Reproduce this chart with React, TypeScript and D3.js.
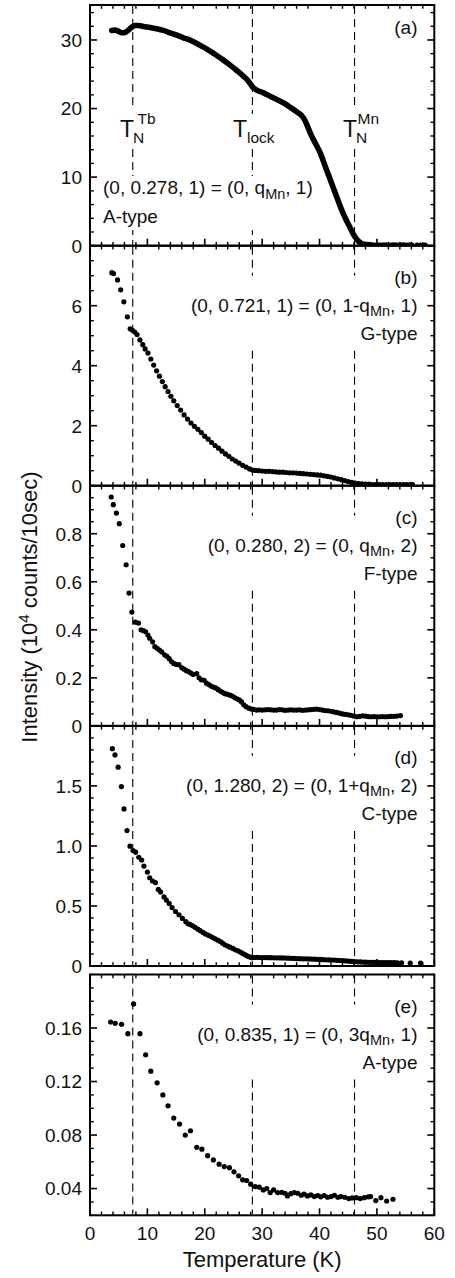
import React from "react";
import * as d3 from "d3";

// ---------- data ----------
const X_DOMAIN: [number, number] = [0, 60];
const X_TICKS = [0, 10, 20, 30, 40, 50, 60];
const X_MINOR_STEP = 2;
const TRANSITIONS = [7.45, 28.3, 46.1]; // T_N^Tb, T_lock, T_N^Mn

const PANEL_TAGS = ["(a)", "(b)", "(c)", "(d)", "(e)"];
const REFLECTION_PRE = [
  "(0, 0.278, 1) = (0, q",
  "(0, 0.721, 1) = (0, 1-q",
  "(0, 0.280, 2) = (0, q",
  "(0, 1.280, 2) = (0, 1+q",
  "(0, 0.835, 1) = (0, 3q",
];
const REFLECTION_POST = [", 1)", ", 1)", ", 2)", ", 2)", ", 1)"];
const ORDER_TYPES = ["A-type", "G-type", "F-type", "C-type", "A-type"];

const Y_DOMAINS: [number, number][] = [
  [0, 35.1],
  [0, 8],
  [0, 1],
  [0, 2],
  [0.02, 0.2],
];
const Y_MAJOR = [
  [0, 10, 20, 30],
  [0, 2, 4, 6],
  [0, 0.2, 0.4, 0.6, 0.8],
  [0, 0.5, 1.0, 1.5],
  [0.04, 0.08, 0.12, 0.16],
];
const Y_MAJOR_LABELS = [
  ["0", "10", "20", "30"],
  ["0", "2", "4", "6"],
  ["0", "0.2", "0.4", "0.6", "0.8"],
  ["0", "0.5", "1.0", "1.5"],
  ["0.04", "0.08", "0.12", "0.16"],
];
const Y_MINOR_STEP = [2, 0.5, 0.05, 0.1, 0.01];

// (a) A-type (0, 0.278, 1): dense scan drawn as thick curve, tail as dots
const SERIES_A_CURVE: [number, number][] = [
  [3.78, 31.39], [4.36, 31.44], [4.94, 31.29], [5.52, 31.05], [6.1, 31.09],
  [6.69, 31.44], [7.27, 31.87], [7.85, 32.12], [8.43, 32.12], [9.3, 31.97],
  [10.47, 31.82], [11.63, 31.63], [12.79, 31.39], [13.95, 31.05], [15.12, 30.7],
  [16.28, 30.32], [17.44, 29.98], [18.61, 29.49], [19.77, 28.95], [20.93, 28.37],
  [22.09, 27.74], [23.26, 27.06], [24.42, 26.33], [25.58, 25.55], [26.74, 24.72],
  [27.62, 23.99], [28.31, 23.16], [29.07, 22.68], [30.23, 22.29], [31.4, 21.8],
  [32.56, 21.31], [33.72, 20.83], [34.88, 20.19], [36.05, 19.51], [37.21, 18.64],
  [37.79, 17.66], [38.37, 16.45], [39.25, 14.99], [40.12, 13.53], [40.99, 11.58],
  [41.86, 9.64], [42.74, 7.69], [43.61, 5.74], [44.48, 4.04], [45.35, 2.58],
  [45.93, 1.61], [46.8, 0.63], [47.68, 0.2], [48.84, 0.12],
];
const SERIES_A_TAIL: [number, number][] = [
  [49.2, 0.12], [49.7, 0.1], [50.2, 0.12], [50.7, 0.1], [51.2, 0.11], [51.7, 0.12],
  [52.2, 0.1], [52.7, 0.11], [53.2, 0.12], [53.7, 0.1], [54.2, 0.11], [54.7, 0.12],
  [55.2, 0.1], [55.7, 0.11], [56.1, 0.1], [57.0, 0.1], [57.6, 0.1], [58.4, 0.1],
];

// (b) G-type (0, 0.721, 1)
const SERIES_B: [number, number][] = [
  [3.8, 7.1], [4.1, 7.07], [4.8, 6.86], [5.35, 6.53], [5.9, 6.13], [6.5, 5.63],
  [7.0, 5.23], [7.4, 5.18], [7.8, 5.12], [8.2, 5.04], [8.7, 4.86], [9.2, 4.7],
  [9.6, 4.56], [10.1, 4.42], [10.6, 4.22], [11.1, 4.02], [11.6, 3.83], [12.1, 3.65],
  [12.6, 3.47], [13.1, 3.3], [13.6, 3.14], [14.1, 2.98], [14.6, 2.83], [15.2, 2.67],
  [15.8, 2.52], [16.4, 2.36], [17.0, 2.22], [17.6, 2.09], [18.2, 1.98], [18.8, 1.88],
  [19.4, 1.77], [20.0, 1.65], [20.6, 1.55], [21.2, 1.44], [21.8, 1.34], [22.4, 1.25],
  [23.0, 1.15], [23.6, 1.06], [24.2, 0.98], [24.8, 0.89], [25.4, 0.82], [26.0, 0.75],
  [26.6, 0.68], [27.2, 0.62], [27.8, 0.56], [28.3, 0.52], [28.8, 0.51], [29.4, 0.5],
  [30.0, 0.49], [30.6, 0.48], [31.2, 0.48], [31.8, 0.47], [32.4, 0.46], [33.0, 0.45],
  [33.6, 0.45], [34.2, 0.44], [34.8, 0.43], [35.4, 0.43], [36.0, 0.42], [36.6, 0.41],
  [37.2, 0.4], [37.8, 0.39], [38.4, 0.38], [39.0, 0.37], [39.6, 0.36], [40.2, 0.35],
  [40.8, 0.33], [41.4, 0.31], [42.0, 0.29], [42.6, 0.26], [43.2, 0.23], [43.8, 0.2],
  [44.4, 0.17], [45.0, 0.14], [45.6, 0.11], [46.2, 0.09], [46.8, 0.07], [47.4, 0.06],
  [48.0, 0.05], [48.6, 0.05], [49.2, 0.04], [49.8, 0.04], [50.4, 0.04], [51.0, 0.04],
  [51.6, 0.04], [52.2, 0.04], [52.8, 0.04], [53.4, 0.04], [54.0, 0.04], [54.6, 0.04],
  [55.2, 0.04], [55.8, 0.04], [56.2, 0.04],
];

// (c) F-type (0, 0.280, 2)
const SERIES_C: [number, number][] = [
  [3.7, 0.953], [4.06, 0.921], [4.6, 0.886], [5.1, 0.842], [5.7, 0.751], [6.3, 0.671],
  [6.8, 0.553], [7.3, 0.474], [7.9, 0.432], [8.45, 0.428], [8.9, 0.4], [9.3, 0.397],
  [9.7, 0.392], [10.1, 0.378], [10.4, 0.365], [10.9, 0.35], [11.3, 0.33], [11.7, 0.323],
  [12.1, 0.316], [12.5, 0.308], [13.0, 0.296], [13.4, 0.29], [13.8, 0.28], [14.2, 0.268],
  [14.6, 0.26], [15.0, 0.256], [15.5, 0.255], [16.0, 0.242], [16.4, 0.236], [16.8, 0.23],
  [17.2, 0.226], [17.6, 0.22], [18.0, 0.214], [18.6, 0.218], [19.0, 0.2], [19.4, 0.192],
  [19.9, 0.19], [20.3, 0.178], [20.7, 0.172], [21.1, 0.166], [21.5, 0.162], [21.9, 0.158],
  [22.3, 0.152], [22.7, 0.145], [23.1, 0.14], [23.5, 0.134], [23.9, 0.132], [24.4, 0.128],
  [24.8, 0.124], [25.2, 0.118], [25.6, 0.113], [26.0, 0.108], [26.4, 0.1], [26.8, 0.088],
  [27.2, 0.08], [27.7, 0.074], [28.1, 0.07], [28.5, 0.069], [29.0, 0.066], [29.5, 0.067],
  [30.0, 0.066], [30.5, 0.067], [31.0, 0.068], [31.5, 0.067], [32.0, 0.066], [32.5, 0.066],
  [33.0, 0.068], [33.5, 0.067], [34.0, 0.065], [34.5, 0.066], [35.0, 0.067], [35.5, 0.066],
  [36.0, 0.066], [36.5, 0.067], [37.0, 0.065], [37.5, 0.066], [38.0, 0.067], [38.5, 0.068],
  [39.0, 0.069], [39.5, 0.07], [40.0, 0.068], [40.5, 0.066], [41.0, 0.064], [41.5, 0.063],
  [42.0, 0.061], [42.5, 0.058], [43.0, 0.056], [43.5, 0.053], [44.0, 0.05], [44.5, 0.048],
  [45.0, 0.046], [45.5, 0.044], [46.0, 0.041], [46.5, 0.038], [47.0, 0.04], [47.5, 0.042],
  [48.0, 0.041], [48.5, 0.039], [49.0, 0.038], [49.5, 0.039], [50.0, 0.038], [50.5, 0.038],
  [51.0, 0.039], [51.5, 0.038], [52.0, 0.039], [52.5, 0.04], [53.0, 0.04], [53.5, 0.041],
  [54.1, 0.043],
];

// (d) C-type (0, 1.280, 2)
const SERIES_D: [number, number][] = [
  [3.9, 1.81], [4.35, 1.758], [4.9, 1.656], [5.46, 1.495], [5.93, 1.308], [6.45, 1.128],
  [6.97, 0.998], [7.5, 0.962], [7.95, 0.948], [8.5, 0.906], [9.0, 0.883], [9.4, 0.832],
  [10.0, 0.782], [10.4, 0.735], [10.9, 0.708], [11.4, 0.695], [11.9, 0.638], [12.3, 0.617],
  [12.9, 0.575], [13.3, 0.549], [13.8, 0.521], [14.3, 0.487], [14.9, 0.454], [15.5, 0.427],
  [16.1, 0.396], [16.7, 0.369], [17.1, 0.352], [17.5, 0.345], [17.9, 0.335], [18.3, 0.322],
  [18.8, 0.307], [19.2, 0.294], [19.7, 0.28], [20.1, 0.267], [20.6, 0.257], [21.0, 0.248],
  [21.4, 0.237], [21.8, 0.226], [22.3, 0.215], [22.7, 0.204], [23.1, 0.19], [23.5, 0.176],
  [24.0, 0.166], [24.4, 0.157], [24.9, 0.146], [25.3, 0.135], [25.8, 0.126], [26.2, 0.116],
  [26.6, 0.105], [27.0, 0.094], [27.3, 0.087], [27.6, 0.08], [27.9, 0.074], [28.2, 0.069],
  [28.6, 0.071], [29.1, 0.072], [29.6, 0.071], [30.1, 0.07], [30.6, 0.07], [31.1, 0.069],
  [31.6, 0.069], [32.1, 0.068], [32.6, 0.068], [33.1, 0.067], [33.6, 0.067], [34.1, 0.066],
  [34.6, 0.065], [35.1, 0.064], [35.6, 0.063], [36.1, 0.062], [36.6, 0.061], [37.1, 0.06],
  [37.6, 0.06], [38.1, 0.059], [38.6, 0.058], [39.1, 0.057], [39.6, 0.056], [40.1, 0.055],
  [40.6, 0.053], [41.1, 0.052], [41.6, 0.051], [42.1, 0.05], [42.6, 0.049], [43.1, 0.047],
  [43.6, 0.046], [44.1, 0.044], [44.6, 0.042], [45.1, 0.04], [45.6, 0.039], [46.1, 0.037],
  [46.6, 0.035], [47.1, 0.034], [47.6, 0.033], [48.1, 0.032], [48.6, 0.031], [49.1, 0.031],
  [49.6, 0.03], [50.1, 0.03], [50.6, 0.029], [51.1, 0.029], [51.6, 0.028], [52.1, 0.028],
  [52.6, 0.028], [53.1, 0.028], [53.6, 0.027], [54.3, 0.027], [55.8, 0.025], [57.6, 0.025],
];

// (e) A-type (0, 0.835, 1)
const SERIES_E: [number, number][] = [
  [3.6, 0.1645], [4.4, 0.1635], [5.5, 0.1628], [6.6, 0.1558], [7.6, 0.178], [8.7, 0.1558],
  [9.7, 0.14], [10.6, 0.1277], [11.7, 0.119], [12.7, 0.11], [13.6, 0.1019], [14.6, 0.0927],
  [15.6, 0.0882], [16.6, 0.08], [17.5, 0.0832], [18.6, 0.0708], [19.5, 0.0694], [20.5, 0.0646],
  [21.5, 0.0614], [22.5, 0.0582], [23.4, 0.0564], [24.3, 0.0556], [25.1, 0.0525], [25.9, 0.0495],
  [26.6, 0.0465], [27.3, 0.046], [28.0, 0.0433], [28.8, 0.0415], [29.5, 0.041], [30.2, 0.039],
  [30.8, 0.04], [31.4, 0.037], [32.0, 0.039], [32.7, 0.037], [33.4, 0.0372], [34.0, 0.0365],
  [34.4, 0.0345], [35.0, 0.0362], [35.6, 0.037], [36.2, 0.0365], [36.8, 0.035], [37.3, 0.0358],
  [37.9, 0.0345], [38.5, 0.0352], [39.1, 0.034], [39.7, 0.0348], [40.2, 0.0338], [40.8, 0.0348],
  [41.4, 0.0335], [42.0, 0.034], [42.6, 0.035], [43.2, 0.0335], [43.7, 0.034], [44.4, 0.0335],
  [45.1, 0.0325], [45.7, 0.033], [46.4, 0.0332], [47.1, 0.0325], [47.8, 0.0332], [48.5, 0.0338],
  [48.9, 0.034], [49.8, 0.031], [50.7, 0.0332], [51.7, 0.0307], [52.8, 0.032],
];

const DOT_SERIES = [SERIES_A_TAIL, SERIES_B, SERIES_C, SERIES_D, SERIES_E];

// ---------- layout ----------
const FONT = "'Liberation Sans', Arial, Helvetica, sans-serif";
const W = 455;
const H = 1278;
const LEFT = 90;
const RIGHT = 434.3;
const PANEL_BOUNDS: [number, number][] = [
  [5, 245.7],
  [245.7, 485.7],
  [485.7, 725.9],
  [725.9, 966],
  [974.5, 1215.3],
];
const TICK_FS = 19;

const x = d3.scaleLinear().domain(X_DOMAIN).range([LEFT, RIGHT]);

function range(start: number, stop: number, step: number) {
  const out: number[] = [];
  const n = Math.round((stop - start) / step);
  for (let i = 0; i <= n; i++) out.push(+(start + i * step).toFixed(6));
  return out;
}

function Panel({ i }: { i: number }) {
  const [top, bottom] = PANEL_BOUNDS[i];
  const y = d3.scaleLinear().domain(Y_DOMAINS[i]).range([bottom, top]);
  const [y0, y1] = Y_DOMAINS[i];
  const minorY = range(Math.ceil(y0 / Y_MINOR_STEP[i] - 1e-6) * Y_MINOR_STEP[i], y1, Y_MINOR_STEP[i]).filter(
    (v) => v >= y0 - 1e-9 && v <= y1 + 1e-9 && !Y_MAJOR[i].some((m) => Math.abs(m - v) < 1e-6)
  );
  const minorX = range(X_DOMAIN[0], X_DOMAIN[1], X_MINOR_STEP).filter((v) => !X_TICKS.includes(v));
  const MAJ = 7;
  const MIN = 3.8;
  const clipId = `clip-${i}`;

  const boxes: { x: number; y: number; w: number; h: number }[] =
    i === 0
      ? [
          { x: 117, y: 107, w: 40, h: 40 },
          { x: 230, y: 114, w: 48, h: 33 },
          { x: 340, y: 107, w: 41, h: 40 },
          { x: 100, y: 176, w: 222, h: 54 },
        ]
      : [{ x: 183, y: top + 30, w: 236, h: 72 }];

  const dots = DOT_SERIES[i];
  const line = d3
    .line<[number, number]>()
    .x((d) => x(d[0]))
    .y((d) => y(d[1]))
    .curve(d3.curveMonotoneX);

  return (
    <g>
      <defs>
        <clipPath id={clipId}>
          <rect x={LEFT} y={top} width={RIGHT - LEFT} height={bottom - top} />
        </clipPath>
      </defs>
      {TRANSITIONS.map((t) => (
        <line
          key={t}
          x1={x(t)}
          x2={x(t)}
          y1={top + 1}
          y2={bottom - 1}
          stroke="#000"
          strokeWidth={1.1}
          strokeDasharray="8,5"
        />
      ))}
      {boxes.map((b, k) => (
        <rect key={k} x={b.x} y={b.y} width={b.w} height={b.h} fill="#fff" />
      ))}
      <g clipPath={`url(#${clipId})`}>
        {i === 0 && (
          <path
            d={line(SERIES_A_CURVE) || ""}
            fill="none"
            stroke="#000"
            strokeWidth={5.6}
            strokeLinejoin="round"
            strokeLinecap="round"
          />
        )}
        {dots.map((d, k) => (
          <circle key={k} cx={x(d[0])} cy={y(d[1])} r={2.6} fill="#000" />
        ))}
      </g>
      {Y_MAJOR[i].map((v) => (
        <g key={"ym" + v}>
          <line x1={LEFT} x2={LEFT + MAJ} y1={y(v)} y2={y(v)} stroke="#000" strokeWidth={1.6} />
          <line x1={RIGHT} x2={RIGHT - MAJ} y1={y(v)} y2={y(v)} stroke="#000" strokeWidth={1.6} />
        </g>
      ))}
      {minorY.map((v) => (
        <g key={"yn" + v}>
          <line x1={LEFT} x2={LEFT + MIN} y1={y(v)} y2={y(v)} stroke="#000" strokeWidth={1.4} />
          <line x1={RIGHT} x2={RIGHT - MIN} y1={y(v)} y2={y(v)} stroke="#000" strokeWidth={1.4} />
        </g>
      ))}
      {X_TICKS.map((v) => (
        <line key={"xm" + v} x1={x(v)} x2={x(v)} y1={bottom} y2={bottom - MAJ} stroke="#000" strokeWidth={1.6} />
      ))}
      {minorX.map((v) => (
        <g key={"xn" + v}>
          <line x1={x(v)} x2={x(v)} y1={bottom} y2={bottom - MIN} stroke="#000" strokeWidth={1.4} />
          <line x1={x(v)} x2={x(v)} y1={top} y2={top + MIN} stroke="#000" strokeWidth={1.4} />
        </g>
      ))}
      <rect x={LEFT} y={top} width={RIGHT - LEFT} height={bottom - top} fill="none" stroke="#000" strokeWidth={2} />
      {Y_MAJOR[i].map((v, k) => (
        <text
          key={"yl" + v}
          x={82}
          y={y(v)}
          dy="0.36em"
          textAnchor="end"
          fontSize={TICK_FS}
          fontFamily={FONT}
          fill="#111"
        >
          {Y_MAJOR_LABELS[i][k]}
        </text>
      ))}
      {i === 0 ? (
        <g fontFamily={FONT} fill="#111">
          <text x={417.5} y={33.5} textAnchor="end" fontSize={19}>
            {PANEL_TAGS[0]}
          </text>
          <text fontSize={23}>
            <tspan x={120} y={137.3}>T</tspan>
            <tspan x={133} y={142.7} fontSize={15.5}>N</tspan>
            <tspan x={137.5} y={123.5} fontSize={15.5}>Tb</tspan>
          </text>
          <text fontSize={23}>
            <tspan x={233} y={137.3}>T</tspan>
            <tspan x={247} y={142.7} fontSize={15.5}>lock</tspan>
          </text>
          <text fontSize={23}>
            <tspan x={343} y={137.3}>T</tspan>
            <tspan x={356} y={142.7} fontSize={15.5}>N</tspan>
            <tspan x={357.5} y={123.5} fontSize={15.5}>Mn</tspan>
          </text>
          <text x={103} y={194.3} fontSize={19}>
            {REFLECTION_PRE[0]}
            <tspan dy={4.5} fontSize={14.5}>Mn</tspan>
            <tspan dy={-4.5}>{REFLECTION_POST[0]}</tspan>
          </text>
          <text x={103} y={222.7} fontSize={19}>
            {ORDER_TYPES[0]}
          </text>
        </g>
      ) : (
        <g fontFamily={FONT} fill="#111" fontSize={19} textAnchor="end">
          <text x={417.5} y={top + 38}>
            {PANEL_TAGS[i]}
          </text>
          <text x={417.5} y={top + 66}>
            {REFLECTION_PRE[i]}
            <tspan dy={4.5} fontSize={14.5}>Mn</tspan>
            <tspan dy={-4.5}>{REFLECTION_POST[i]}</tspan>
          </text>
          <text x={417.5} y={top + 94}>
            {ORDER_TYPES[i]}
          </text>
        </g>
      )}
    </g>
  );
}

export default function App() {
  const lastBottom = PANEL_BOUNDS[4][1];
  return (
    <svg width={W} height={H} viewBox={`0 0 ${W} ${H}`} style={{ display: "block", position: "absolute", left: 0, top: 0, background: "#fff" }}>
      <rect x={0} y={0} width={W} height={H} fill="#fff" />
      {PANEL_TAGS.map((_, i) => (
        <Panel key={i} i={i} />
      ))}
      {X_TICKS.map((v) => (
        <text key={v} x={x(v)} y={lastBottom + 25} textAnchor="middle" fontSize={TICK_FS} fontFamily={FONT} fill="#111">
          {v}
        </text>
      ))}
      <text x={(LEFT + RIGHT) / 2} y={1266.7} textAnchor="middle" fontSize={22} fontFamily={FONT} fill="#111">
        Temperature (K)
      </text>
      <text transform="translate(37,607) rotate(-90)" textAnchor="middle" fontSize={22} fontFamily={FONT} fill="#111">
        Intensity (10
        <tspan dy={-8} fontSize={15}>4</tspan>
        <tspan dy={8}> counts/10sec)</tspan>
      </text>
    </svg>
  );
}
